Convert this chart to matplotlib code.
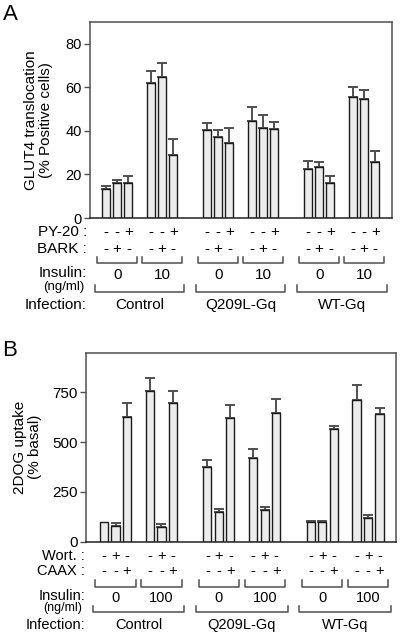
import matplotlib
matplotlib.use('Agg')
import matplotlib.pyplot as plt
from matplotlib.transforms import blended_transform_factory
import numpy as np

plt.rcParams['font.family'] = ['Liberation Sans', 'DejaVu Sans']

# ---------------- data ----------------
infections = ["Control", "Q209L-Gq", "WT-Gq"]
insulin_A = ["0", "10", "0", "10", "0", "10"]
insulin_B = ["0", "100", "0", "100", "0", "100"]
py20 = ["-", "-", "+"]
bark = ["-", "+", "-"]
wort = ["-", "+", "-"]
caax = ["-", "-", "+"]

glut4_mean = [13.3, 16.3, 16.0, 62.1, 64.9, 29.0,
              40.3, 37.3, 34.4, 44.4, 41.4, 40.8,
              22.6, 23.5, 16.3, 55.4, 54.5, 25.8]
glut4_err = [1.2, 1.0, 3.4, 5.2, 6.1, 7.2,
             3.2, 3.0, 7.0, 6.4, 5.8, 3.2,
             3.8, 2.3, 3.2, 4.6, 4.3, 5.0]

dog_mean = [100, 80, 627, 760, 75, 698,
            373, 147, 620, 420, 157, 648,
            97, 97, 568, 713, 120, 642]
dog_err = [0, 12, 71, 62, 13, 62,
           37, 18, 65, 47, 18, 69,
           8, 8, 14, 77, 13, 30]

# ---------------- layout ----------------
W, H = 407, 638
fig = plt.figure(figsize=(W / 100, H / 100), dpi=100)


def fy(y):
    return 1 - y / H


centers = np.array([0, 4, 9, 13, 18, 22])
x = (centers[:, None] + np.array([-1, 0, 1])[None, :]).ravel()

BAR_FC = '#ececec'
EDGE = '#1a1a1a'
GREY = '#505050'


def panel(ax, means, errs, ylim, yticks, xlim, tick_fs):
    means = np.asarray(means, float)
    errs = np.asarray(errs, float)
    ax.bar(x, means, width=0.72, color=BAR_FC, edgecolor=EDGE, linewidth=1.0, zorder=2)
    m = errs > 0
    ax.errorbar(x[m], means[m], yerr=[np.zeros(m.sum()), errs[m]], fmt='none',
                ecolor=GREY, elinewidth=1.4, capsize=3.5, capthick=1.4, zorder=1)
    ax.set_xlim(*xlim)
    ax.set_ylim(*ylim)
    ax.set_yticks(yticks)
    ax.set_xticks([])
    for s in ax.spines.values():
        s.set_color(GREY)
        s.set_linewidth(1.1)
    ax.spines['bottom'].set_color('#222222')
    ax.tick_params(axis='y', direction='out', length=4, width=1.0, color=GREY,
                   labelsize=tick_fs, pad=2)


def annotations(ax, row1_lbl, row1, row2_lbl, row2, ins, ys, label_x_px, fs, small_fs, half):
    tr = blended_transform_factory(ax.transData, fig.transFigure)
    trf = fig.transFigure
    y1, y2, sb_top, sb_bot, ins_y, ins_lbl_y, ng_y, lb_top, lb_bot, inf_y = ys
    lx = label_x_px / W
    fig.text(lx, fy(y1), row1_lbl, ha='right', va='center', fontsize=fs, transform=trf)
    fig.text(lx, fy(y2), row2_lbl, ha='right', va='center', fontsize=fs, transform=trf)
    fig.text(lx, fy(ins_lbl_y), "Insulin:", ha='right', va='center', fontsize=fs, transform=trf)
    fig.text(lx - 3 / W, fy(ng_y), "(ng/ml)", ha='right', va='center', fontsize=small_fs, transform=trf)
    fig.text(lx, fy(inf_y), "Infection:", ha='right', va='center', fontsize=fs, transform=trf)
    for gi, c in enumerate(centers):
        for k in range(3):
            xx = c + (k - 1)
            ax.text(xx, fy(y1), row1[k], ha='center', va='center', fontsize=fs, transform=tr)
            ax.text(xx, fy(y2), row2[k], ha='center', va='center', fontsize=fs, transform=tr)
        a, b = c - half, c + half
        ax.plot([a, a, b, b], [fy(sb_top), fy(sb_bot), fy(sb_bot), fy(sb_top)],
                color=GREY, lw=1.1, transform=tr, clip_on=False)
        ax.text(c, fy(ins_y), ins[gi], ha='center', va='center', fontsize=fs, transform=tr)
    for ii, name in enumerate(infections):
        a, b = centers[2 * ii] - 2.0, centers[2 * ii + 1] + 2.0
        ax.plot([a, a, b, b], [fy(lb_top), fy(lb_bot), fy(lb_bot), fy(lb_top)],
                color=GREY, lw=1.1, transform=tr, clip_on=False)
        ax.text((centers[2 * ii] + centers[2 * ii + 1]) / 2, fy(inf_y), name,
                ha='center', va='center', fontsize=fs, transform=tr)


# Panel A
axA = fig.add_axes([90 / W, 1 - 218 / H, 302 / W, 196 / H])
panel(axA, glut4_mean, glut4_err, (0, 90), [0, 20, 40, 60, 80], (-2.42, 24.49), 10.5)
axA.set_ylabel("GLUT4 translocation\n(% Positive cells)", fontsize=11, labelpad=8.5,
               linespacing=1.15)
annotations(axA, "PY-20 :", py20, "BARK :", bark, insulin_A,
            (232, 249, 257, 263, 275, 273, 287, 285, 292, 305), 87, 11, 9.5, 1.78)
fig.text(10 / W, fy(14), "A", fontsize=16, ha='center', va='center')

# Panel B
axB = fig.add_axes([86 / W, 1 - 541.7 / H, 310 / W, 189 / H])
panel(axB, dog_mean, dog_err, (0, 950), [0, 250, 500, 750], (-2.57, 24.43), 11)
axB.set_ylabel("2DOG uptake\n(% basal)", fontsize=11, labelpad=7, linespacing=1.15)
annotations(axB, "Wort. :", wort, "CAAX :", caax, insulin_B,
            (556, 571, 580, 587, 598, 596, 608, 606, 612, 625), 85, 10.5, 9, 1.75)
fig.text(10 / W, fy(350), "B", fontsize=16, ha='center', va='center')

fig.savefig("out.png", dpi=100)
